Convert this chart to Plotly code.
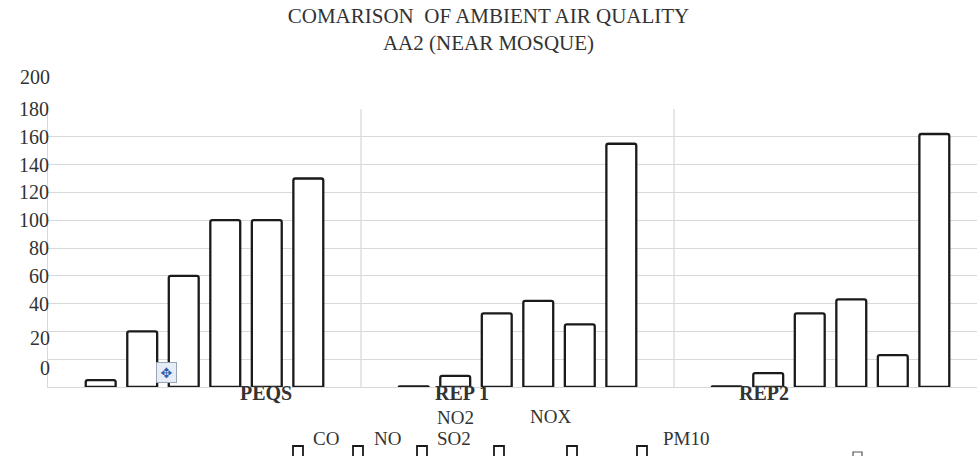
import plotly.graph_objects as go

# ---- data ----
categories = ["PEQS", "REP 1", "REP2"]
series_names = ["CO", "NO", "SO2", "NO2", "NOX", "PM10"]
co = [5, 0.5, 0.5]
no = [40, 8, 10]
so2 = [80, 53, 53]
no2 = [120, 62, 63]
nox = [120, 45, 23]
pm10 = [150, 175, 182]
series_values = [co, no, so2, no2, nox, pm10]

# gridlines every 20; the reference prints its labels one step lower than the gridline
grid_vals = [0, 20, 40, 60, 80, 100, 120, 140, 160, 180, 200]
grid_text = ["", "", "", "40", "60", "80", "100", "120", "140", "160", "180"]

W, H = 977, 456
L, R, T, B = 48, 0, 109, 69
PW, PH = W - L - R, H - T - B


def px_x(px):
    return (px - L) / PW


def px_y(py):
    return (H - B - py) / PH


SERIF = "Liberation Serif, Times New Roman, serif"
TXT = "#333333"
GRID = "#d9d9d9"

fig = go.Figure()
for name, vals in zip(series_names, series_values):
    fig.add_trace(go.Bar(
        name=name, x=categories, y=vals,
        marker=dict(color="white", line=dict(color="#1a1a1a", width=2.3), cornerradius=2),
        showlegend=False,
    ))

fig.update_layout(
    width=W, height=H,
    margin=dict(l=L, r=R, t=T, b=B),
    paper_bgcolor="white", plot_bgcolor="white",
    barmode="group", bargap=0.204, bargroupgap=0.28,
    title=dict(
        text="COMARISON&nbsp; OF AMBIENT AIR QUALITY<br>AA2 (NEAR MOSQUE)",
        x=0.5, xanchor="center", xref="container",
        y=1 - 23 / H, yanchor="top", yref="container",
        font=dict(family=SERIF, size=21, color=TXT),
    ),
    xaxis=dict(
        type="category", range=[-0.5, 2.468],
        showticklabels=False, ticks="", showgrid=False,
        showline=True, linecolor=GRID, linewidth=1, fixedrange=True,
    ),
    yaxis=dict(
        range=[0, 200], tickvals=grid_vals, ticktext=grid_text,
        showgrid=True, gridcolor=GRID, gridwidth=1.3,
        zeroline=False, showline=True, linecolor=GRID, linewidth=1,
        ticks="", tickfont=dict(family=SERIF, size=20, color=TXT),
        ticklabelstandoff=-6,
    ),
)

# category separators
for xv in [0.5, 1.5]:
    fig.add_shape(type="line", xref="x", yref="paper", x0=xv, x1=xv, y0=0, y1=1,
                  line=dict(color=GRID, width=1.3))

# drifted y labels as in the reference
for txt, py in [("200", 77), ("20", 337.5), ("0", 368)]:
    fig.add_annotation(text=txt, xref="paper", yref="paper", x=0, y=px_y(py),
                       xanchor="right", yanchor="middle", xshift=4, showarrow=False,
                       font=dict(family=SERIF, size=20, color=TXT))

# category labels (offset as in the reference)
cat_offsets = [0.1965, -0.177, -0.2125]
for i, (c, off) in enumerate(zip(categories, cat_offsets)):
    fig.add_annotation(text="<b>%s</b>" % c, xref="x", yref="paper", x=i + off, y=px_y(393),
                       xanchor="center", yanchor="middle",
                       showarrow=False, font=dict(family=SERIF, size=20, color=TXT))

# legend (manual, as scattered in the reference)
legend_text_pos = {"CO": (326, 438), "NO": (387, 438), "SO2": (454, 438),
                   "NO2": (455, 417), "NOX": (550, 416), "PM10": (686, 438)}
legend_marker_x = [298, 358, 422, 499, 572, 642]
for name in series_names:
    tx, ty = legend_text_pos[name]
    fig.add_annotation(text=name, xref="paper", yref="paper", x=px_x(tx), y=px_y(ty),
                       xanchor="center", yanchor="middle",
                       showarrow=False, font=dict(family=SERIF, size=19, color=TXT))
for mx in legend_marker_x:
    fig.add_shape(type="rect", xref="paper", yref="paper",
                  x0=px_x(mx - 5), x1=px_x(mx + 5), y0=px_y(446), y1=px_y(457),
                  line=dict(color="#1a1a1a", width=1.8), fillcolor="white")
fig.add_shape(type="rect", xref="paper", yref="paper",
              x0=px_x(853), x1=px_x(862), y0=px_y(452), y1=px_y(462),
              line=dict(color="#555", width=1.2), fillcolor="white")

# small "move" handle artifact
fig.add_annotation(text="✥", xref="paper", yref="paper", x=px_x(166.5), y=px_y(372),
                   xanchor="center", yanchor="middle",
                   showarrow=False, width=17, height=17, bgcolor="#e6edf7",
                   bordercolor="#9aa6b5", borderwidth=1,
                   font=dict(family="DejaVu Sans", size=14, color="#2f5fb0"))

fig.write_html("out.html")
